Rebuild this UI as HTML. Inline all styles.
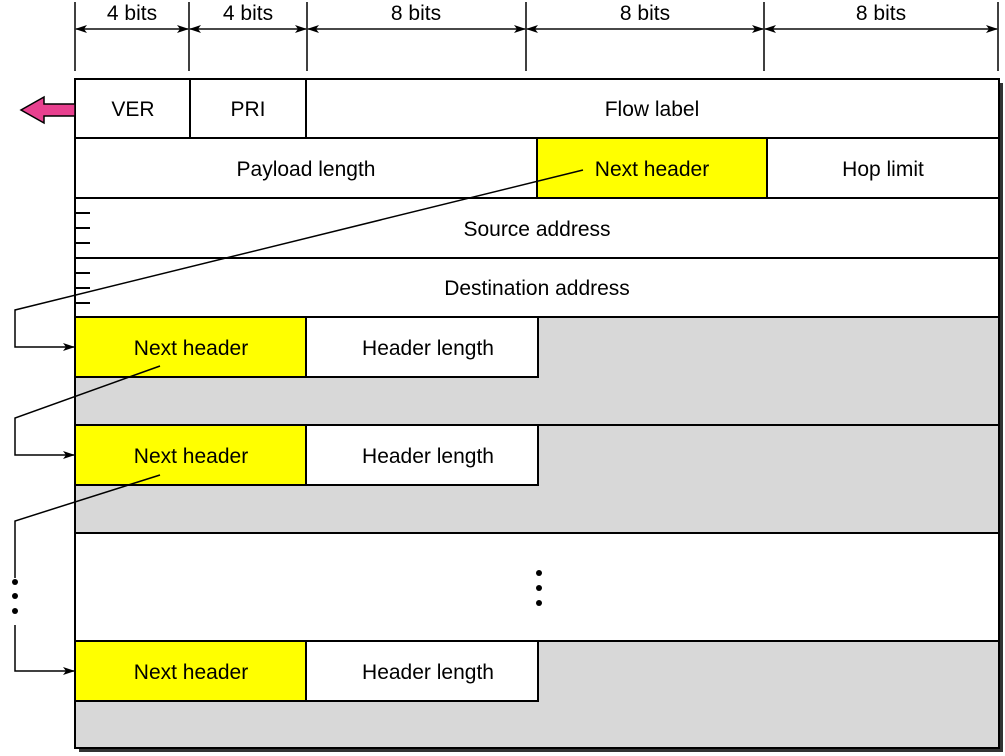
<!DOCTYPE html>
<html><head><style>body{margin:0;background:#fff}svg{display:block}</style></head><body>
<svg width="1005" height="756" xmlns="http://www.w3.org/2000/svg" font-family="Liberation Sans, sans-serif" font-size="21">
<defs><marker id="a" markerWidth="12" markerHeight="8" refX="11" refY="4" orient="auto" markerUnits="userSpaceOnUse"><path d="M0,0 L12,4 L0,8 L3,4z" fill="#000"/></marker></defs>
<!-- shadow -->
<rect x="79" y="83" width="924" height="669" fill="#333"/>
<rect x="75" y="79" width="924" height="669" fill="#fff" stroke="#000" stroke-width="2"/>
<!-- gray areas -->
<rect x="75" y="317" width="924" height="216" fill="#d8d8d8"/>
<rect x="75" y="641" width="924" height="107" fill="#d8d8d8"/>
<rect x="537" y="138" width="230" height="60" fill="#ff0"/>
<g stroke="#000" stroke-width="2" fill="none">
<rect x="75" y="79" width="924" height="669"/>
<line x1="75" y1="138" x2="999" y2="138"/><line x1="75" y1="198" x2="999" y2="198"/>
<line x1="75" y1="258" x2="999" y2="258"/><line x1="75" y1="317" x2="999" y2="317"/>
<line x1="75" y1="425" x2="999" y2="425"/><line x1="75" y1="533" x2="999" y2="533"/>
<line x1="75" y1="641" x2="999" y2="641"/>
<line x1="190" y1="79" x2="190" y2="138"/><line x1="306" y1="79" x2="306" y2="138"/>
<line x1="537" y1="138" x2="537" y2="198"/><line x1="767" y1="138" x2="767" y2="198"/>
</g>
<g stroke="#000" stroke-width="2">
<rect x="75" y="317" width="231" height="60" fill="#ff0"/><rect x="306" y="317" width="232" height="60" fill="#fff"/>
<rect x="75" y="425" width="231" height="60" fill="#ff0"/><rect x="306" y="425" width="232" height="60" fill="#fff"/>
<rect x="75" y="641" width="231" height="60" fill="#ff0"/><rect x="306" y="641" width="232" height="60" fill="#fff"/>
</g>
<!-- left ticks -->
<g stroke="#000" stroke-width="2">
<line x1="75" y1="213" x2="90" y2="213"/><line x1="75" y1="228" x2="90" y2="228"/><line x1="75" y1="243" x2="90" y2="243"/>
<line x1="75" y1="273" x2="90" y2="273"/><line x1="75" y1="288" x2="90" y2="288"/><line x1="75" y1="303" x2="90" y2="303"/>
</g>
<!-- dimension lines -->
<g stroke="#000" stroke-width="1.5">
<line x1="75" y1="2" x2="75" y2="71"/><line x1="189" y1="2" x2="189" y2="71"/><line x1="307" y1="2" x2="307" y2="71"/>
<line x1="526" y1="2" x2="526" y2="71"/><line x1="764" y1="2" x2="764" y2="71"/><line x1="998" y1="2" x2="998" y2="71"/>
</g>
<g stroke="#000" stroke-width="1.2" marker-end="url(#a)" marker-start="url(#a)">
<line x1="76" y1="29" x2="188" y2="29" marker-start="none"/>
<line x1="188" y1="29" x2="76" y2="29" marker-start="none"/>
<line x1="190" y1="29" x2="306" y2="29" marker-start="none"/>
<line x1="306" y1="29" x2="190" y2="29" marker-start="none"/>
<line x1="308" y1="29" x2="525" y2="29" marker-start="none"/>
<line x1="525" y1="29" x2="308" y2="29" marker-start="none"/>
<line x1="527" y1="29" x2="763" y2="29" marker-start="none"/>
<line x1="763" y1="29" x2="527" y2="29" marker-start="none"/>
<line x1="765" y1="29" x2="997" y2="29" marker-start="none"/>
<line x1="997" y1="29" x2="765" y2="29" marker-start="none"/>
</g>
<g text-anchor="middle">
<text x="132" y="20">4 bits</text><text x="248" y="20">4 bits</text><text x="416" y="20">8 bits</text>
<text x="645" y="20">8 bits</text><text x="881" y="20">8 bits</text>
<text x="133" y="116">VER</text><text x="248" y="116">PRI</text><text x="652" y="116">Flow label</text>
<text x="306" y="176">Payload length</text><text x="652" y="176">Next header</text><text x="883" y="176">Hop limit</text>
<text x="537" y="236">Source address</text><text x="537" y="295">Destination address</text>
<text x="191" y="355">Next header</text><text x="428" y="355">Header length</text>
<text x="191" y="463">Next header</text><text x="428" y="463">Header length</text>
<text x="191" y="679">Next header</text><text x="428" y="679">Header length</text>
</g>
<!-- pink arrow -->
<path d="M75,104 L44,104 L44,97 L21,110 L44,123 L44,116 L75,116 Z" fill="#e8408f" stroke="#000" stroke-width="1.5"/>
<!-- connectors -->
<g stroke="#000" stroke-width="1.5" fill="none">
<polyline points="583,170 15,310 15,347 74,347" marker-end="url(#a)"/>
<polyline points="160,366 15,418 15,455 74,455" marker-end="url(#a)"/>
<polyline points="160,475 15,521 15,578"/>
<polyline points="15,625 15,671 74,671" marker-end="url(#a)"/>
</g>
<g fill="#000">
<circle cx="15" cy="582" r="3"/><circle cx="15" cy="596" r="3"/><circle cx="15" cy="611" r="3"/>
<circle cx="539" cy="573" r="3"/><circle cx="539" cy="588" r="3"/><circle cx="539" cy="603" r="3"/>
</g>
</svg>
</body></html>
